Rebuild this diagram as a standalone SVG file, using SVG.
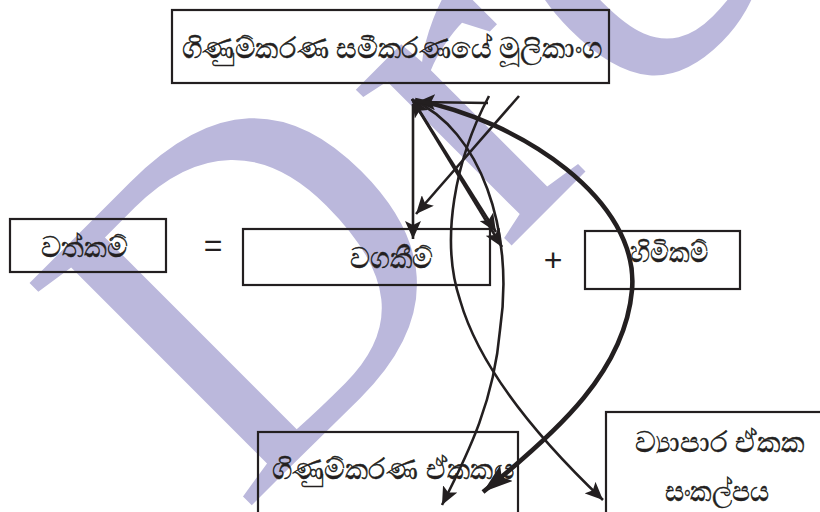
<svg xmlns="http://www.w3.org/2000/svg" width="820" height="512" viewBox="0 0 820 512">
<style>
.box{fill:none;stroke:#231f20;stroke-width:2.2}
.t{font-family:"Noto Sans","DejaVu Sans",sans-serif;font-size:29px;fill:#231f20;stroke:#231f20;stroke-width:0.5;text-anchor:middle}
.op{font-family:"Liberation Sans",Arial,sans-serif;font-size:32px;fill:#231f20;text-anchor:middle}
.c{fill:none;stroke:#231f20;stroke-width:2.6}
.ck{fill:none;stroke:#231f20;stroke-width:4.6}
.wm{font-family:"Liberation Serif","Times New Roman",serif;font-size:480px;fill:#bbb8dc;letter-spacing:25px}
</style>
<defs>
<marker id="ah" viewBox="0 0 18 16" refX="18" refY="8" markerWidth="18" markerHeight="16" orient="auto" markerUnits="userSpaceOnUse">
<path d="M0,0 L18,8 L0,16 L4,8 z" fill="#231f20"/>
</marker>
<marker id="ahs" viewBox="0 0 18 16" refX="0" refY="8" markerWidth="18" markerHeight="16" orient="auto" markerUnits="userSpaceOnUse">
<path d="M18,0 L0,8 L18,16 L14,8 z" fill="#231f20"/>
</marker>
<marker id="ahb" viewBox="0 0 30 20" refX="30" refY="10" markerWidth="30" markerHeight="20" orient="auto" markerUnits="userSpaceOnUse">
<path d="M0,0 L30,10 L0,20 L6,10 z" fill="#231f20"/>
</marker>
</defs>
<g id="watermark">
<text class="wm" transform="translate(242,515) rotate(-45)">Dre</text>
</g>
<g id="connectors">
<path class="c" d="M488,103 L417,102" marker-end="url(#ah)"/>
<path class="c" d="M413,104 L413,239" marker-end="url(#ah)"/>
<path class="c" d="M519,96 L416,214" marker-end="url(#ah)"/>
<path class="c" d="M412,99 L496,232" marker-start="url(#ahs)" marker-end="url(#ah)"/>
<path class="c" d="M412,99 L502,247" marker-end="url(#ah)"/>
<path class="c" d="M489,96 C455,160 440,240 460,300 C480,370 540,440 603,500" marker-end="url(#ah)"/>
<path class="c" d="M413,100 C480,130 515,230 500,330 C494,400 470,450 442,505" marker-end="url(#ah)"/>
<path class="ck" d="M415,100 C520,120 640,200 632,290 C625,370 560,430 483,492" marker-end="url(#ahb)"/>
</g>
<g id="n-top">
<rect class="box" x="172" y="10" width="437" height="73"/>
<text class="t" x="392" y="58" textLength="421" lengthAdjust="spacingAndGlyphs">ගිණුම්කරණ සමීකරණයේ මූලිකාංග</text>
</g>
<g id="n-assets">
<rect class="box" x="10" y="219" width="156" height="53"/>
<text class="t" x="84" y="257" textLength="87" lengthAdjust="spacingAndGlyphs">වත්කම්</text>
</g>
<g id="op-eq"><text class="op" x="213" y="256">=</text></g>
<g id="n-liab">
<rect class="box" x="243" y="229" width="247" height="56"/>
<text class="t" x="391" y="268" textLength="83" lengthAdjust="spacingAndGlyphs">වගකීම්</text>
</g>
<g id="op-plus"><text class="op" x="553" y="271">+</text></g>
<g id="n-equity">
<rect class="box" x="585" y="231" width="155" height="58"/>
<text class="t" x="669" y="262" textLength="78" lengthAdjust="spacingAndGlyphs">හිමිකම්</text>
</g>
<g id="n-entity">
<rect class="box" x="258" y="432" width="260" height="82"/>
<text class="t" x="393" y="479" textLength="243" lengthAdjust="spacingAndGlyphs">ගිණුම්කරණ ඒකකය</text>
</g>
<g id="n-concept">
<rect class="box" x="606" y="412" width="220" height="110" stroke-width="1.6"/>
<text class="t" x="720" y="452" textLength="170" lengthAdjust="spacingAndGlyphs">ව්‍යාපාර ඒකක</text>
<text class="t" x="717" y="501" textLength="105" lengthAdjust="spacingAndGlyphs">සංකල්පය</text>
</g>
</svg>
